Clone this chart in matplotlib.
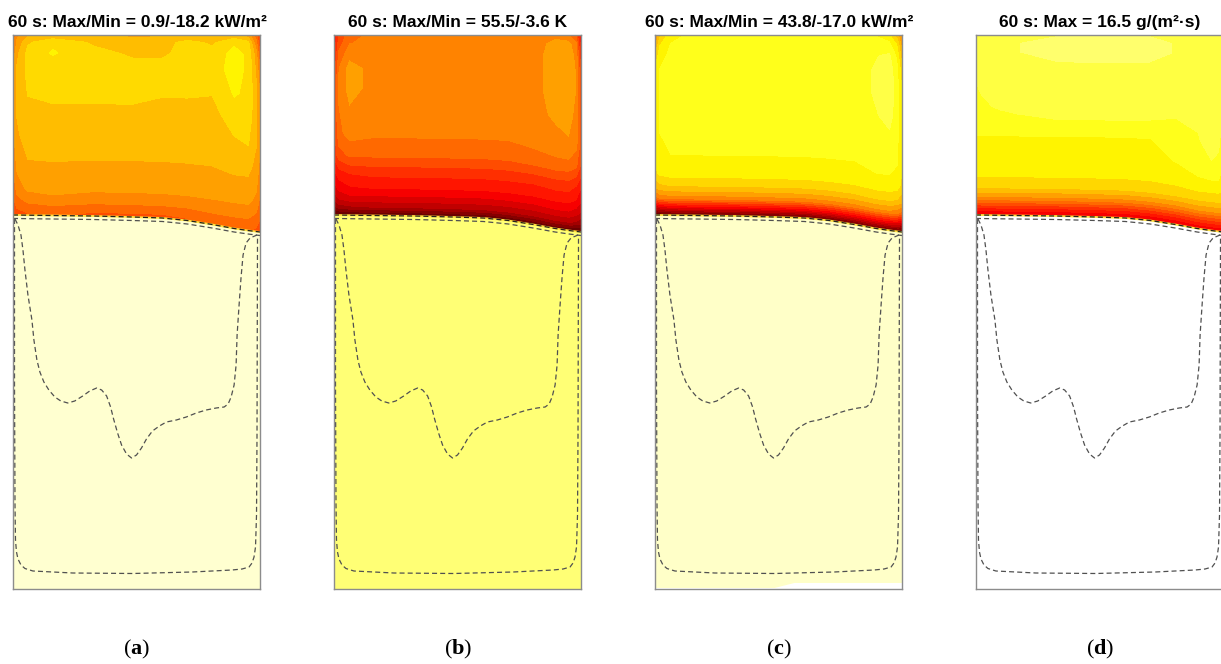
import numpy as np
import matplotlib.pyplot as plt
from matplotlib import font_manager
from matplotlib.colors import Normalize

installed = {f.name for f in font_manager.fontManager.ttflist}
title_font = 'Liberation Sans Narrow' if 'Liberation Sans Narrow' in installed else 'Liberation Sans'
plt.rcParams['font.family'] = ['Liberation Sans', 'DejaVu Sans']
plt.rcParams['mathtext.fontset'] = 'custom'
plt.rcParams['mathtext.rm'] = 'Liberation Serif'
plt.rcParams['mathtext.bf'] = 'Liberation Serif:bold'

# mould cross-section, mm (depth measured down from the top)
W, H = 248, 554

# grid columns across the width and rows as a fraction of the front depth
x_cols = [0, 4, 15, 40, 80, 120, 150, 175, 200, 222, 236, 244, 248]
s_rows = [0, 0.04, 0.1, 0.18, 0.3, 0.42, 0.55, 0.67, 0.77, 0.85, 0.91, 0.96, 1.0]
front_depth = [180, 180, 180.2, 180.5, 181, 182, 183, 185.5, 189.5, 193.5, 195.5, 196.5, 197]
front_gap = 3.5

# dashed contours in the lower zone
inner_x = [2, 5, 8, 10, 12, 15, 19, 21, 24, 27, 31, 36, 42, 48, 55, 62, 70, 77, 84, 89,
           94, 98, 101, 105, 109, 114, 119, 124, 129, 134, 140, 147, 154, 164, 174, 184,
           194, 204, 212, 216, 219, 222, 224, 225, 227, 229, 231, 234, 238, 245]
inner_d = [184, 190, 200, 215, 235, 260, 285, 305, 325, 337, 347, 355, 362, 366, 368,
           366, 361, 356, 353, 355, 361, 372, 384, 398, 410, 419, 423, 420, 413, 404, 396,
           391, 387, 385, 382, 378, 375, 373, 372, 369, 362, 350, 330, 300, 270, 242, 220,
           208, 203, 200]
outer_x = [1.5, 1.5, 2, 2.5, 3.5, 5, 8, 12, 20, 60, 120, 180, 220, 230, 237, 240, 242,
           243.5, 244.5, 245, 245.5]
outer_d = [184, 350, 470, 505, 517, 524, 530, 533.5, 536, 538, 538.5, 537, 535, 534, 532,
           528, 522, 512, 480, 400, 201]

titles = ['60 s: Max/Min = 0.9/-18.2 kW/m\u00b2',
          '60 s: Max/Min = 55.5/-3.6 K',
          '60 s: Max/Min = 43.8/-17.0 kW/m\u00b2',
          '60 s: Max = 16.5 g/(m\u00b2\u00b7s)']
labels = ['a', 'b', 'c', 'd']
vmins = [-18.2, -3.6, -17.0, 0.0]
vmaxs = [0.9, 55.5, 43.8, 16.5]
cmaps = ['hot', 'hot_r', 'hot_r', 'hot_r']
lower_vals = [0.0, 4.5, -13.5, 0.0]

# heat flux, kW/m2
field_a = [
    [-8.6, -7.3, -6.4, -6.2, -6.2, -6.4, -6.4, -6.2, -6.2, -6.0, -6.7, -8.3, -9.6],
    [-8.3, -6.9, -5.6, -4.8, -5.6, -6.0, -5.8, -5.2, -5.6, -4.8, -5.2, -7.5, -9.4],
    [-7.7, -6.5, -5.2, -4.6, -5.2, -5.6, -5.6, -5.2, -5.2, -4.4, -4.8, -6.7, -8.6],
    [-7.1, -6.2, -5.2, -5.0, -5.0, -5.2, -5.2, -5.2, -5.0, -4.4, -4.8, -6.4, -7.7],
    [-7.1, -6.0, -5.4, -5.2, -5.2, -5.2, -5.4, -5.4, -5.4, -4.6, -4.8, -6.0, -7.1],
    [-7.1, -6.2, -5.6, -5.6, -5.6, -5.6, -5.6, -5.6, -5.8, -5.0, -5.0, -6.0, -7.1],
    [-7.3, -6.4, -5.8, -5.8, -5.8, -5.8, -5.8, -5.8, -6.0, -5.6, -5.4, -6.2, -7.1],
    [-7.7, -6.7, -6.2, -6.2, -6.2, -6.2, -6.2, -6.2, -6.2, -6.0, -6.0, -6.5, -7.3],
    [-8.1, -7.1, -6.5, -6.4, -6.5, -6.5, -6.5, -6.5, -6.5, -6.5, -6.5, -6.9, -7.7],
    [-8.5, -7.5, -6.9, -6.7, -6.9, -6.9, -6.9, -6.9, -6.9, -6.9, -6.9, -7.3, -8.1],
    [-8.8, -8.1, -7.5, -7.3, -7.5, -7.5, -7.5, -7.5, -7.5, -7.5, -7.5, -7.9, -8.5],
    [-9.2, -8.6, -8.3, -8.1, -8.3, -8.3, -8.3, -8.3, -8.1, -8.1, -8.1, -8.5, -8.8],
    [-9.6, -9.2, -8.8, -8.6, -9.0, -9.0, -9.0, -8.8, -8.6, -8.6, -8.6, -8.8, -9.2],
]
# temperature, K
field_b = [
    [33.0, 28.3, 24.2, 22.8, 22.8, 22.8, 22.8, 22.8, 22.8, 21.8, 23.0, 26.0, 31.9],
    [31.9, 27.1, 23.6, 22.8, 22.8, 22.8, 22.8, 22.8, 22.4, 20.0, 20.0, 23.0, 30.7],
    [30.7, 25.4, 21.8, 22.4, 23.2, 22.8, 22.8, 22.8, 21.8, 20.0, 19.4, 21.8, 28.9],
    [28.9, 23.6, 20.0, 21.8, 22.4, 22.4, 22.4, 22.4, 21.8, 20.0, 19.4, 21.2, 27.1],
    [27.7, 23.0, 20.0, 21.8, 22.4, 22.4, 22.4, 22.4, 21.8, 20.0, 19.4, 21.2, 26.0],
    [27.7, 23.6, 21.2, 22.4, 22.4, 22.4, 22.4, 22.4, 21.8, 20.6, 20.0, 21.8, 26.0],
    [28.3, 24.2, 22.4, 23.0, 23.0, 23.0, 23.0, 23.0, 22.4, 21.8, 21.2, 22.4, 26.0],
    [29.5, 27.1, 25.4, 25.4, 25.4, 25.4, 25.4, 25.4, 24.8, 24.2, 24.2, 25.4, 28.3],
    [33.6, 31.9, 30.7, 30.1, 30.1, 30.1, 30.1, 30.1, 30.1, 29.5, 29.5, 30.7, 32.5],
    [36.6, 34.8, 33.6, 33.0, 33.0, 33.0, 33.0, 33.0, 33.0, 32.5, 32.5, 33.6, 35.4],
    [39.5, 37.8, 36.6, 36.6, 36.6, 36.6, 36.6, 36.6, 36.6, 36.0, 36.0, 37.2, 38.4],
    [43.7, 41.9, 41.3, 40.7, 40.7, 40.7, 40.7, 40.7, 40.7, 40.1, 40.1, 41.3, 42.5],
    [49.0, 48.4, 47.8, 47.8, 47.8, 47.8, 47.8, 47.8, 47.8, 47.2, 47.2, 47.8, 48.4],
]
# heat flux, kW/m2
field_c = [
    [8.5, 3.7, -1.2, -2.4, -2.4, -2.4, -2.4, -2.4, -2.4, -1.8, 0.0, 4.3, 8.5],
    [6.1, 1.2, -1.8, -2.4, -2.4, -2.4, -2.4, -2.4, -2.4, -3.0, -2.4, 1.2, 6.1],
    [2.5, -0.6, -2.4, -2.4, -2.4, -2.4, -2.4, -2.4, -3.0, -4.2, -4.8, -1.2, 3.7],
    [0.0, -1.8, -2.4, -2.4, -2.4, -2.4, -2.4, -2.4, -3.0, -4.8, -6.1, -2.4, 1.2],
    [-0.6, -1.8, -2.4, -2.4, -2.4, -2.4, -2.4, -2.4, -3.0, -4.8, -6.1, -3.0, 0.0],
    [-0.6, -1.8, -2.4, -2.4, -2.4, -2.4, -2.4, -2.4, -3.0, -4.2, -5.4, -3.0, 0.0],
    [-0.6, -1.8, -2.4, -2.4, -2.4, -2.4, -2.4, -2.4, -2.4, -3.0, -3.6, -2.4, 0.0],
    [0.0, -1.2, -1.8, -1.8, -1.8, -1.8, -1.8, -1.8, -1.8, -2.4, -2.4, -1.8, 0.0],
    [1.2, 0.0, -0.6, -0.6, -0.6, -0.6, -0.6, -0.6, -0.6, -1.2, -1.2, -0.6, 1.2],
    [5.5, 4.3, 3.7, 3.7, 3.7, 3.7, 3.7, 3.7, 3.7, 3.1, 3.1, 3.7, 4.9],
    [12.2, 10.4, 9.8, 9.8, 9.8, 9.8, 9.8, 9.8, 9.8, 9.1, 9.1, 10.4, 11.6],
    [25.6, 24.3, 23.1, 22.5, 22.5, 22.5, 22.5, 22.5, 22.5, 21.9, 21.9, 23.1, 25.0],
    [35.9, 35.3, 34.7, 34.7, 34.7, 34.7, 34.7, 34.7, 34.7, 34.1, 34.1, 34.7, 35.3],
]
# mass flux, g/(m2 s)
field_d = [
    [3.3, 3.1, 3.0, 3.0, 2.8, 2.6, 2.6, 2.8, 3.0, 3.1, 3.3, 3.3, 3.3],
    [3.3, 3.1, 3.0, 2.8, 2.3, 2.1, 2.1, 2.3, 2.8, 3.1, 3.3, 3.3, 3.3],
    [3.3, 3.1, 3.0, 2.8, 2.3, 2.1, 2.1, 2.3, 2.8, 3.1, 3.3, 3.3, 3.3],
    [3.3, 3.1, 3.1, 3.0, 3.0, 3.0, 3.0, 3.0, 3.0, 3.1, 3.3, 3.3, 3.3],
    [3.5, 3.3, 3.1, 3.1, 3.1, 3.1, 3.1, 3.1, 3.1, 3.1, 3.1, 3.3, 3.3],
    [3.8, 3.8, 3.5, 3.3, 3.0, 3.0, 3.0, 3.1, 3.3, 3.3, 3.1, 3.3, 3.5],
    [4.1, 4.1, 4.1, 4.1, 4.1, 4.1, 4.1, 4.1, 4.0, 3.5, 3.1, 3.3, 3.6],
    [4.3, 4.3, 4.3, 4.3, 4.3, 4.3, 4.3, 4.3, 4.1, 3.8, 3.5, 3.6, 4.0],
    [4.6, 4.6, 4.6, 4.6, 4.6, 4.6, 4.6, 4.6, 4.5, 4.3, 4.3, 4.3, 4.5],
    [5.4, 5.4, 5.4, 5.4, 5.4, 5.4, 5.4, 5.4, 5.4, 5.3, 5.3, 5.3, 5.4],
    [7.1, 7.1, 7.1, 7.1, 7.1, 7.1, 7.1, 7.1, 7.1, 6.9, 6.9, 6.9, 7.1],
    [9.4, 9.4, 9.4, 9.4, 9.4, 9.4, 9.4, 9.4, 9.4, 9.2, 9.2, 9.2, 9.4],
    [11.1, 11.1, 11.1, 11.1, 11.1, 11.1, 11.1, 11.1, 11.1, 10.9, 10.9, 10.9, 11.1],
]
fields = [field_a, field_b, field_c, field_d]

# bottom edge of the coloured lower zone
base_x = [[0, W], [0, W], [0, 120, 140, W], [0, W]]
base_d = [[H, H], [H, H], [553, 553, 548, 548], [H, H]]

dash = (0, (4, 2.5))
lefts = [13, 334, 655, 976]

fig = plt.figure(figsize=(12.21, 6.64), dpi=100)
X = np.tile(x_cols, (len(s_rows), 1))
Y = np.outer(s_rows, front_depth)
lower_front = np.array(front_depth) + front_gap

for k in range(4):
    ax = fig.add_axes([lefts[k] / 1221, 75 / 664, 247 / 1221, 554 / 664])
    norm = Normalize(vmins[k], vmaxs[k])
    cmap = plt.get_cmap(cmaps[k])
    levels = np.linspace(vmins[k], vmaxs[k], 25)
    ax.contourf(X, Y, np.array(fields[k]), levels=levels, cmap=cmap, norm=norm)

    # solidified zone below the front
    px = list(x_cols) + base_x[k][::-1]
    py = list(front_depth) + base_d[k][::-1]
    ax.fill(px, py, color=cmap(norm(lower_vals[k])), lw=0)

    ax.plot(x_cols, front_depth, color='#ffe040', lw=1.3)
    ax.plot(x_cols, front_depth, color='#202020', lw=0.9, ls=dash)
    ax.plot(x_cols, lower_front, color='#505050', lw=0.9, ls=dash)
    ax.plot(inner_x, inner_d, color='#505050', lw=0.9, ls=dash)
    ax.plot(outer_x, outer_d, color='#505050', lw=0.9, ls=dash)

    ax.set_xlim(0, W)
    ax.set_ylim(H, 0)
    ax.set_xticks([])
    ax.set_yticks([])
    for sp in ax.spines.values():
        sp.set_color('#8c8c8c')
        sp.set_linewidth(1.0)

    cx = (lefts[k] + 124) / 1221
    fig.text(cx, 1 - 27 / 664, titles[k], ha='center', va='baseline',
             fontsize=12.5, fontweight='bold', family=[title_font, 'DejaVu Sans'])
    fig.text(cx, 1 - 654 / 664, r'$(\mathbf{%s})$' % labels[k], ha='center',
             va='baseline', fontsize=16)

fig.savefig('out.png', dpi=100)
